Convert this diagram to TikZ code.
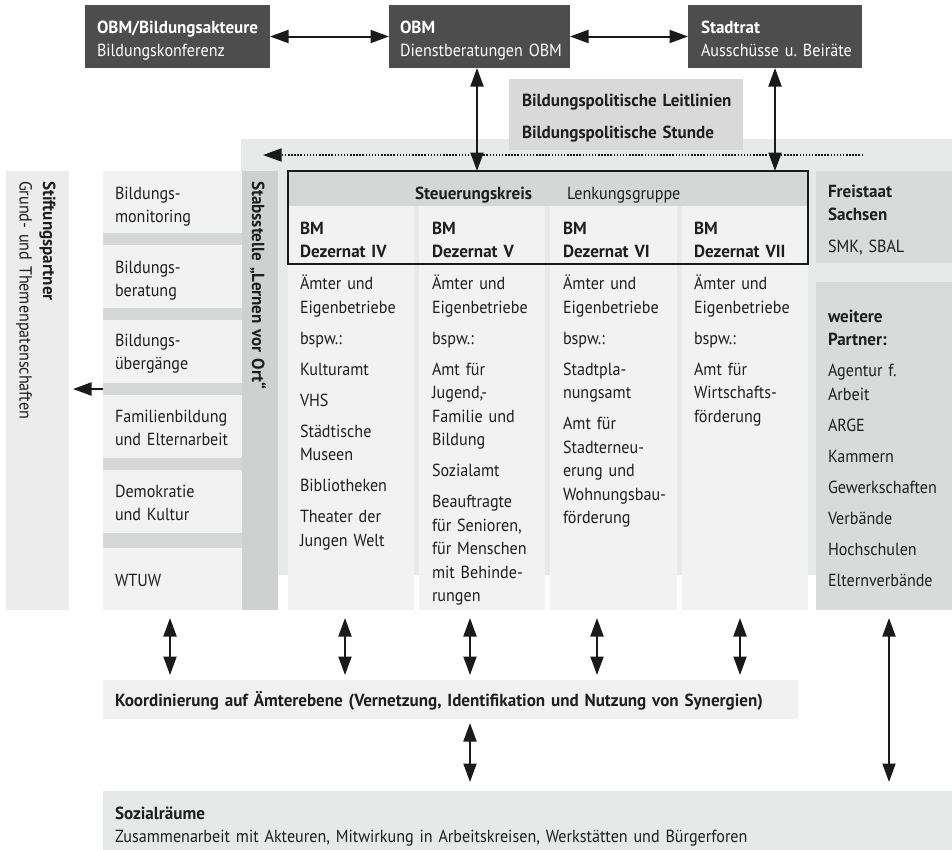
\documentclass[tikz,border=0pt]{standalone}
\usepackage{fontspec}
\setmainfont{PT Sans}[FakeStretch=0.92, BoldFeatures={FakeStretch=0.975}]
\usetikzlibrary{arrows.meta}
\frenchspacing
\definecolor{bgc}{HTML}{E8E9E9}
\definecolor{colc}{HTML}{F2F2F2}
\definecolor{hdrc}{HTML}{D5D6D6}
\definecolor{stabc}{HTML}{CFD0D0}
\definecolor{gapc}{HTML}{D6D7D7}
\definecolor{partc}{HTML}{D9DADA}
\definecolor{polc}{HTML}{D9D9D9}
\definecolor{stiftc}{HTML}{ECECEC}
\definecolor{darkc}{HTML}{4D4D4D}
\definecolor{koordc}{HTML}{F1F1F1}
\definecolor{sozc}{HTML}{E7E8E8}
\definecolor{txtc}{HTML}{1E1E1E}
\definecolor{arrc}{HTML}{1A1A1A}
\begin{document}
\begin{tikzpicture}[x=1pt,y=-1pt,
  area/.style={rectangle, inner sep=0pt, outer sep=0pt, anchor=north west, draw=none},
  lbl/.style={inner sep=0pt, outer sep=0pt, anchor=base west, align=left, text width=#1, text=txtc,
     font=\fontsize{17.5}{23.5}\selectfont\frenchspacing},
  lbl/.default=200pt,
  biarrow/.style={draw=arrc, line width=2pt, {Triangle[length=18.5pt,width=13pt]}-{Triangle[length=18.5pt,width=13pt]}},
  onearrow/.style={draw=arrc, line width=2pt, -{Triangle[length=18.5pt,width=13pt]}},
  dotarrow/.style={draw=arrc, line width=1.6pt, dash pattern=on 1.5pt off 1.6pt, -{Triangle[length=18.5pt,width=13pt]}},
]
\useasboundingbox (0,0) rectangle (952,849);

% background region
\node[area, fill=bgc, minimum width=711pt, minimum height=436pt] (bg) at (241,139) {};

% top boxes
\node[area, fill=darkc, minimum width=185pt, minimum height=63pt] (obmb) at (85,5) {};
\node[area, fill=darkc, minimum width=181pt, minimum height=63pt] (obm) at (389,5) {};
\node[area, fill=darkc, minimum width=174pt, minimum height=63pt] (rat) at (688,5) {};
\node[area, fill=polc, minimum width=234pt, minimum height=71pt] (pol) at (509,79) {};

% left side
\node[area, fill=stiftc, minimum width=63pt, minimum height=439pt] (stift) at (6,171) {};
\node[area, fill=gapc, minimum width=139pt, minimum height=439pt] (leftcol) at (103,171) {};
\node[area, fill=colc, minimum width=139pt, minimum height=62pt] (lb1) at (103,171) {};
\node[area, fill=colc, minimum width=139pt, minimum height=63pt] (lb2) at (103,245) {};
\node[area, fill=colc, minimum width=139pt, minimum height=63pt] (lb3) at (103,320) {};
\node[area, fill=colc, minimum width=139pt, minimum height=63pt] (lb4) at (103,395) {};
\node[area, fill=colc, minimum width=139pt, minimum height=63pt] (lb5) at (103,470) {};
\node[area, fill=colc, minimum width=139pt, minimum height=62pt] (lb6) at (103,548) {};
\node[area, fill=stabc, minimum width=36pt, minimum height=439pt] (stab) at (242,171) {};

% Dezernat columns
\node[area, fill=colc, minimum width=126pt, minimum height=439pt] (dez4) at (288,171) {};
\node[area, fill=colc, minimum width=126pt, minimum height=439pt] (dez5) at (419,171) {};
\node[area, fill=colc, minimum width=127pt, minimum height=439pt] (dez6) at (550,171) {};
\node[area, fill=colc, minimum width=126pt, minimum height=439pt] (dez7) at (682,171) {};
\node[area, fill=hdrc, minimum width=520pt, minimum height=35pt] (head) at (288,171) {};
\node[area, draw=arrc, line width=1.5pt, minimum width=520pt, minimum height=93pt] (steuer) at (288,171) {};

% right side
\node[area, fill=partc, minimum width=136pt, minimum height=92pt] (frei) at (816,171) {};
\node[area, fill=partc, minimum width=136pt, minimum height=328pt] (weit) at (816,282) {};

% bottom
\node[area, fill=koordc, minimum width=695pt, minimum height=39pt] (koord) at (103,680) {};
\node[area, fill=sozc, minimum width=849pt, minimum height=69pt] (sozial) at (103,791) {};

% texts
\node[lbl, text=white] (tobmb) at (97,33) {\textbf{OBM/Bildungsakteure}\\Bildungskonferenz};
\node[lbl, text=white] (tobm) at (400,33) {\textbf{OBM}\\Dienstberatungen OBM};
\node[lbl, text=white] (trat) at (701,33) {\textbf{Stadtrat}\\Ausschüsse u.\ Beiräte};
\node[lbl=230pt] (tpol) at (522,106) {\textbf{Bildungspolitische Leitlinien}\\[8.5pt]\textbf{Bildungspolitische Stunde}};

\node[lbl] (tsteu) at (415,199) {\textbf{Steuerungskreis}};
\node[lbl] (tlenk) at (567,199) {Lenkungsgruppe};

\node[lbl=120pt] (td4) at (300,234) {\textbf{BM}\\\textbf{Dezernat IV}\\[8.5pt]Ämter und\\Eigenbetriebe\\[7.5pt]bspw.:\\[7.5pt]Kulturamt\\[7.5pt]VHS\\[7.5pt]Städtische\\Museen\\[7.5pt]Bibliotheken\\[7.5pt]Theater der\\Jungen Welt};
\node[lbl=120pt] (td5) at (432,234) {\textbf{BM}\\\textbf{Dezernat V}\\[8.5pt]Ämter und\\Eigenbetriebe\\[7.5pt]bspw.:\\[7.5pt]Amt für\\Jugend,-\\Familie und\\Bildung\\[7.5pt]Sozialamt\\[7.5pt]Beauftragte\\für Senioren,\\für Menschen\\mit Behinde-\\rungen};
\node[lbl=120pt] (td6) at (563,234) {\textbf{BM}\\\textbf{Dezernat VI}\\[8.5pt]Ämter und\\Eigenbetriebe\\[7.5pt]bspw.:\\[7.5pt]Stadtpla-\\nungsamt\\[7.5pt]Amt für\\Stadterneu-\\erung und\\Wohnungsbau-\\förderung};
\node[lbl=120pt] (td7) at (694,234) {\textbf{BM}\\\textbf{Dezernat VII}\\[8.5pt]Ämter und\\Eigenbetriebe\\[7.5pt]bspw.:\\[7.5pt]Amt für\\Wirtschafts-\\förderung};

\node[lbl=120pt] (tfrei) at (828,197) {\textbf{Freistaat}\\\textbf{Sachsen}\\[8.5pt]SMK, SBAL};
\node[lbl=120pt] (tweit) at (828,322) {\textbf{weitere}\\\textbf{Partner:}\\[7.5pt]Agentur f.\\Arbeit\\[7.5pt]ARGE\\[7.5pt]Kammern\\[7.5pt]Gewerkschaften\\[7.5pt]Verbände\\[7.5pt]Hochschulen\\[7.5pt]Elternverbände};

\node[lbl=125pt] (tlb1) at (115,199) {Bildungs-\\monitoring};
\node[lbl=125pt] (tlb2) at (115,273) {Bildungs-\\beratung};
\node[lbl=125pt] (tlb3) at (115,346) {Bildungs-\\übergänge};
\node[lbl=125pt] (tlb4) at (115,422) {Familienbildung\\und Elternarbeit};
\node[lbl=125pt] (tlb5) at (115,497) {Demokratie\\und Kultur};
\node[lbl=125pt] (tlb6) at (115,586) {WTUW};

\node[lbl=300pt, rotate=-90] (tstab) at (252,181) {\textbf{Stabsstelle „Lernen vor Ort“}};
\node[lbl=300pt, rotate=-90] (tstift) at (43,181) {\textbf{Stiftungspartner}\\Grund- und Themenpatenschaften};

\node[lbl=700pt] (tkoord) at (115,706) {\textbf{Koordinierung auf Ämterebene (Vernetzung, Identifikation und Nutzung von Synergien)}};
\node[lbl=800pt] (tsoz) at (115,819) {\textbf{Sozialräume}\\Zusammenarbeit mit Akteuren, Mitwirkung in Arbeitskreisen, Werkstätten und Bürgerforen};

% connectors
\coordinate (dotR) at (863,155);
\coordinate (dotL) at (263,155);
\draw[dotarrow] (dotR) -- (dotL);

\draw[biarrow] (obmb) -- (obm);
\draw[biarrow] (obm) -- (rat);
\coordinate (vx1) at (477,0);
\draw[biarrow] (obm.south -| vx1) -- (steuer.north -| vx1);
\draw[biarrow] (rat.south) -- (rat.south |- steuer.north);

\coordinate (la) at (0,389);
\draw[onearrow, shorten >=4pt] (leftcol.west |- la) -- (stift.east |- la);

\coordinate (a1) at (170,0);
\coordinate (a2) at (345,0);
\coordinate (a3) at (470,0);
\coordinate (a4) at (597,0);
\coordinate (a5) at (740,0);
\coordinate (a6) at (889,0);
\draw[biarrow, shorten <=8pt, shorten >=5pt] (leftcol.south -| a1) -- (koord.north -| a1);
\draw[biarrow, shorten <=8pt, shorten >=5pt] (dez4.south -| a2) -- (koord.north -| a2);
\draw[biarrow, shorten <=8pt, shorten >=5pt] (dez5.south -| a3) -- (koord.north -| a3);
\draw[biarrow, shorten <=8pt, shorten >=5pt] (dez6.south -| a4) -- (koord.north -| a4);
\draw[biarrow, shorten <=8pt, shorten >=5pt] (dez7.south -| a5) -- (koord.north -| a5);
\draw[biarrow, shorten <=4pt, shorten >=9pt] (koord.south -| a3) -- (sozial.north -| a3);
\draw[biarrow, shorten <=8pt, shorten >=9pt] (weit.south -| a6) -- (sozial.north -| a6);
\end{tikzpicture}
\end{document}
